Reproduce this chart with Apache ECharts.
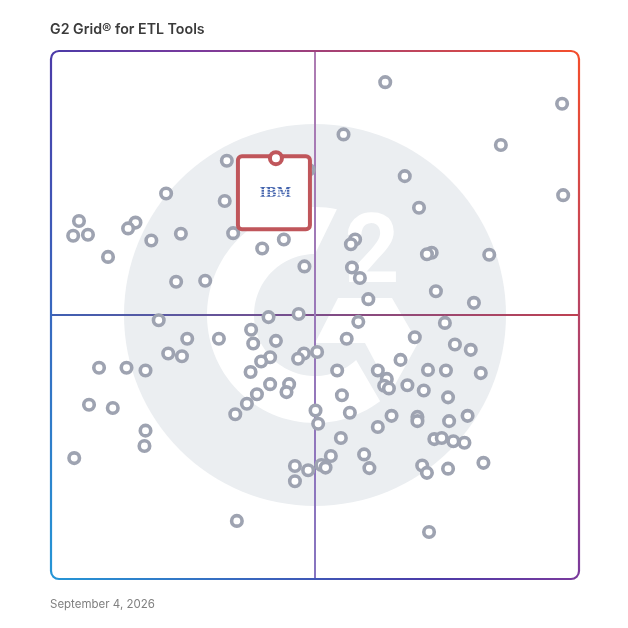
<!DOCTYPE html>
<html>
<head>
    <meta charset="utf-8">
    <title>G2 Grid for ETL Tools</title>
    <script src="https://cdn.jsdelivr.net/npm/echarts@6/dist/echarts.min.js"></script>
    <style>
        html, body { margin: 0; padding: 0; background: #fff; }
    </style>
</head>
<body>
<div id="main" style="width:628px;height:628px;"></div>
<script type="text/javascript">
    // scores, 0-100 on both axes
    var vendorX = [63.3, 96.8, 97.0, 5.3, 4.2, 7.0, 10.8, 9.1, 7.2, 11.7, 4.4, 35.2, 71.6,
        55.4, 85.2, 33.3, 67.0, 48.8, 21.8, 32.9, 69.7, 16.0, 14.6, 34.5, 24.6, 19.0, 44.1,
        57.6, 56.8, 40.0, 72.1, 71.2, 83.0, 48.0, 57.0, 58.5, 29.2, 23.7, 72.9, 60.1, 80.1,
        46.9, 41.2, 20.4, 58.2, 74.6, 37.9, 68.9, 25.8, 31.8, 56.0, 42.6, 38.3, 76.5, 79.5,
        50.4, 47.9, 46.8, 22.2, 24.8, 41.5, 39.8, 66.2, 14.3, 17.9, 37.8, 54.2, 61.9, 71.4,
        74.8, 81.4, 63.6, 41.5, 45.1, 44.6, 63.1, 64.0, 67.5, 70.6, 39.0, 37.1, 55.1, 75.2,
        34.9, 50.1, 56.6, 50.6, 64.5, 61.9, 69.4, 69.4, 75.4, 78.9, 17.9, 17.7, 54.9, 72.6,
        74.0, 76.2, 78.3, 53.0, 59.3, 51.2, 52.0, 46.2, 48.7, 60.3, 70.3, 71.2, 75.2, 81.9, 46.2];
    var vendorY = [94.1, 90.0, 72.7, 67.8, 65.0, 65.2, 61.0, 40.0, 33.0, 32.4, 22.9, 11.0, 8.9,
        84.2, 82.2, 79.2, 76.3, 77.5, 73.0, 71.6, 70.3, 67.5, 66.4, 65.5, 65.4, 64.1, 64.3,
        64.3, 63.4, 62.6, 61.8, 61.5, 61.4, 59.2, 59.0, 57.0, 56.5, 56.3, 54.5, 53.0, 52.3,
        50.2, 49.6, 49.0, 48.7, 48.5, 47.2, 45.8, 45.5, 45.5, 45.5, 45.1, 44.6, 44.4, 43.4,
        43.0, 42.7, 41.7, 42.7, 42.2, 42.0, 41.2, 41.5, 40.0, 39.5, 39.2, 39.5, 39.5, 39.6,
        39.5, 39.0, 37.9, 36.9, 36.9, 35.4, 36.6, 36.1, 36.7, 35.7, 35.0, 33.2, 34.8, 34.4,
        31.2, 31.9, 31.5, 29.4, 30.9, 28.8, 30.7, 29.9, 29.9, 30.9, 28.1, 25.2, 26.7, 26.5,
        26.7, 26.1, 25.8, 23.3, 23.6, 21.6, 21.1, 21.4, 20.6, 21.0, 21.5, 20.1, 20.9, 22.0, 18.5];
    var ibmName = 'IBM';
    var ibmX = [42.6];
    var ibmY = [79.7];

    function zip(xs, ys) {
        return xs.map(function (x, i) { return [x, ys[i]]; });
    }

    var myChart = echarts.init(document.getElementById('main'));

    var option = {
        animation: false,
        backgroundColor: '#fff',
        title: {
            text: 'G2 Grid® for ETL Tools',
            left: 50,
            top: 23,
            padding: 0,
            textStyle: { fontFamily: 'Inter', fontSize: 14.2, fontWeight: 600, color: '#3b3b3b' }
        },
        grid: { left: 51, top: 51, width: 528, height: 528 },
        xAxis: { type: 'value', min: 0, max: 100, show: false },
        yAxis: { type: 'value', min: 0, max: 100, show: false },
        series: [
            {
                name: 'vendors',
                type: 'scatter',
                z: 2,
                data: zip(vendorX, vendorY),
                symbol: 'circle',
                symbolSize: 10.5,
                itemStyle: { color: '#fff', borderColor: '#9ea3b1', borderWidth: 3.6, opacity: 1 }
            },
            {
                name: ibmName,
                type: 'scatter',
                z: 5,
                data: zip(ibmX, ibmY),
                symbol: 'circle',
                symbolSize: 12,
                itemStyle: { color: '#fff', borderColor: '#c0565b', borderWidth: 4, opacity: 1 }
            }
        ]
    };
    myChart.setOption(option);

    // everything around the marks hangs off the grid box and the IBM point
    var tl = myChart.convertToPixel({ gridIndex: 0 }, [0, 100]);
    var br = myChart.convertToPixel({ gridIndex: 0 }, [100, 0]);
    var mid = myChart.convertToPixel({ gridIndex: 0 }, [50, 50]);
    var ibm = myChart.convertToPixel({ gridIndex: 0 }, [ibmX[0], ibmY[0]]);
    var cardX = ibm[0] - 38, cardY = ibm[1] - 2, cardW = 72, cardH = 73;
    var logoX = cardX + 37.5, logoY = cardY + 37;

    function gradient(x, y, x2, y2, stops) {
        return { type: 'linear', global: true, x: x, y: y, x2: x2, y2: y2, colorStops: stops };
    }

    // points along an arc of the watermark ring, angles in degrees on screen
    function arc(r, from, to) {
        var pts = [];
        for (var i = 0; i <= 80; i++) {
            var a = (from + (to - from) * i / 80) * Math.PI / 180;
            pts.push([mid[0] + r * Math.cos(a), mid[1] + r * Math.sin(a)]);
        }
        return pts;
    }

    var logoFill = '#fff';
    var stripes = [-4, -1.5, 1, 3.5].map(function (dy) {
        return {
            type: 'rect', z: 4, silent: true,
            shape: { x: logoX - 18, y: logoY + dy, width: 36, height: 0.7 },
            style: { fill: '#fff' }
        };
    });

    myChart.setOption({
        graphic: [
            {
                type: 'circle', z: 0, silent: true,
                shape: { cx: mid[0], cy: mid[1], r: 191 },
                style: { fill: '#ebeef1' }
            },
            {
                // the G
                type: 'polygon', z: 0, silent: true,
                shape: { points: arc(108, -78.3, -307.1).concat(arc(61, -312.4, -90)) },
                style: { fill: logoFill }
            },
            {
                // the arrow that closes the G
                type: 'polygon', z: 0, silent: true,
                shape: { points: [[338, 298], [392, 298], [418, 343], [391, 392], [365, 343], [315, 343]] },
                style: { fill: logoFill }
            },
            {
                type: 'text', z: 0, silent: true,
                x: 372, y: 258,
                style: {
                    text: '2', fill: logoFill, align: 'center', verticalAlign: 'middle',
                    font: '700 96px Roboto'
                }
            },
            {
                type: 'line', z: 1, silent: true,
                shape: { x1: tl[0], y1: mid[1], x2: br[0], y2: mid[1] },
                style: {
                    lineWidth: 2,
                    stroke: gradient(tl[0], 0, br[0], 0, [
                        { offset: 0, color: '#3f60b3' },
                        { offset: 0.5, color: '#7c4d8a' },
                        { offset: 1, color: '#bf4152' }
                    ])
                }
            },
            {
                type: 'line', z: 1, silent: true,
                shape: { x1: mid[0], y1: tl[1], x2: mid[0], y2: br[1] },
                style: {
                    lineWidth: 2,
                    stroke: gradient(0, tl[1], 0, br[1], [
                        { offset: 0, color: '#ae7cb2' },
                        { offset: 1, color: '#8674c0' }
                    ])
                }
            },
            {
                type: 'rect', z: 1, silent: true,
                shape: { x: tl[0], y: tl[1], width: br[0] - tl[0], height: br[1] - tl[1], r: 8 },
                style: {
                    fill: 'none', lineWidth: 2.2,
                    stroke: gradient(tl[0], br[1], 648, 147, [
                        { offset: 0, color: '#2596d6' },
                        { offset: 0.42, color: '#4b3ba8' },
                        { offset: 0.58, color: '#7a3a9d' },
                        { offset: 1, color: '#f44e2c' }
                    ])
                }
            },
            {
                type: 'rect', z: 3, silent: true,
                shape: { x: cardX, y: cardY, width: cardW, height: cardH, r: 4 },
                style: { fill: '#fff', stroke: '#c0565b', lineWidth: 4 }
            },
            {
                type: 'text', z: 4, silent: true,
                x: logoX, y: logoY,
                style: {
                    text: ibmName, fill: '#4565ae', align: 'center', verticalAlign: 'middle',
                    font: '700 13px "DejaVu Serif"'
                }
            }
        ].concat(stripes).concat([
            {
                type: 'text', z: 1, silent: true,
                x: 50, y: 605,
                style: {
                    text: 'September 4, 2026', fill: '#808080', align: 'left', verticalAlign: 'middle',
                    font: '400 11.5px Inter'
                }
            }
        ])
    });
</script>
</body>
</html>
